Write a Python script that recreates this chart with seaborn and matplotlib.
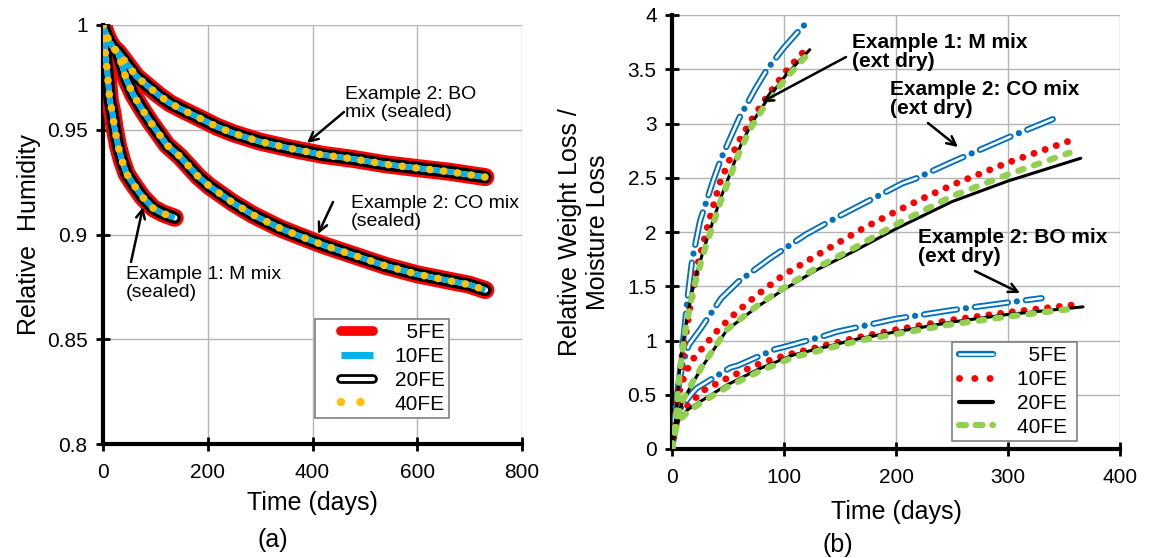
import matplotlib
matplotlib.use("Agg")
import matplotlib.pyplot as plt
import seaborn as sns
from matplotlib.lines import Line2D
from matplotlib.legend_handler import HandlerTuple, HandlerLine2D
from matplotlib.ticker import FuncFormatter

# ---------------- Panel (a): relative humidity, sealed ----------------
a_M_days = [0, 2, 5, 8, 13, 18, 22, 29, 36, 45, 58, 75, 96, 115, 137]
a_M_rh = [1.0, 0.993, 0.985, 0.978, 0.964, 0.958, 0.951, 0.942, 0.9355, 0.929, 0.924, 0.918, 0.9125, 0.910, 0.908]

a_CO_days = [0, 5, 12, 20, 29, 45, 58, 74, 90, 106, 122, 147, 182, 204, 249, 287, 338, 370, 420, 480, 540, 600, 660, 700, 730]
a_CO_rh = [1.0, 0.996, 0.992, 0.989, 0.9865, 0.9737, 0.9666, 0.960, 0.9539, 0.9483, 0.9427, 0.9372, 0.9276, 0.9229,
           0.915, 0.9093, 0.903, 0.8998, 0.895, 0.890, 0.885, 0.881, 0.878, 0.876, 0.8735]

a_BO_days = [0, 5, 12, 20, 29, 45, 64, 83, 106, 128, 153, 185, 217, 249, 300, 357, 420, 480, 540, 600, 660, 700, 730]
a_BO_rh = [1.0, 0.996, 0.992, 0.989, 0.987, 0.9817, 0.9754, 0.9714, 0.9666, 0.9626, 0.9594, 0.9555, 0.9515, 0.9483,
           0.9443, 0.9411, 0.938, 0.936, 0.9335, 0.9317, 0.930, 0.9285, 0.9274]

series_labels = ["  5FE", "10FE", "20FE", "40FE"]

# ---------------- Panel (b): relative weight loss, external drying ----------------
b_M_5FE_days = [0, 3, 6, 10, 14, 18, 25, 37, 44, 60, 75, 85, 100, 112, 123]
b_M_5FE = [0, 0.36, 0.6, 1.0, 1.4, 1.74, 2.1, 2.48, 2.68, 3.05, 3.33, 3.5, 3.7, 3.84, 3.96]
b_M_10FE_days = [0, 3, 6, 10, 16, 23, 33, 43, 52, 61, 72, 85, 100, 112, 123]
b_M_10FE = [0, 0.25, 0.55, 0.9, 1.3, 1.7, 2.1, 2.46, 2.68, 2.86, 3.05, 3.25, 3.46, 3.6, 3.72]
b_M_20FE_days = [0, 2, 4, 7, 12, 19, 28, 43, 52, 61, 71, 85, 102, 123]
b_M_20FE = [0, 0.15, 0.36, 0.76, 1.13, 1.5, 1.83, 2.3, 2.54, 2.79, 3.0, 3.22, 3.45, 3.68]
b_M_40FE_days = [0, 2, 4, 7, 12, 19, 28, 43, 52, 61, 71, 85, 102, 123]
b_M_40FE = [0, 0.14, 0.34, 0.72, 1.1, 1.47, 1.8, 2.27, 2.51, 2.76, 2.97, 3.2, 3.42, 3.66]

b_CO_5FE_days = [0, 3, 6, 10, 15, 25, 44, 59, 88, 120, 150, 206, 217, 251, 300, 340]
b_CO_5FE = [0, 0.35, 0.6, 0.8, 0.96, 1.1, 1.39, 1.54, 1.76, 1.98, 2.15, 2.45, 2.49, 2.65, 2.87, 3.04]
b_CO_10FE_days = [0, 3, 7, 12, 18, 28, 41, 58, 76, 99, 117, 135, 170, 200, 227, 254, 300, 355]
b_CO_10FE = [0, 0.3, 0.55, 0.7, 0.82, 0.94, 1.097, 1.265, 1.42, 1.6, 1.71, 1.82, 2.03, 2.19, 2.325, 2.45, 2.64, 2.84]
b_CO_20FE_days = [0, 2, 5, 10, 18, 28, 49, 76, 99, 129, 162, 200, 250, 300, 365]
b_CO_20FE = [0, 0.15, 0.3, 0.45, 0.6, 0.774, 1.097, 1.31, 1.465, 1.65, 1.82, 2.03, 2.28, 2.47, 2.68]
b_CO_40FE_days = [0, 2, 5, 10, 18, 28, 49, 76, 99, 129, 162, 200, 250, 300, 355]
b_CO_40FE = [0, 0.15, 0.3, 0.46, 0.61, 0.78, 1.1, 1.32, 1.48, 1.67, 1.85, 2.07, 2.33, 2.53, 2.73]

b_BO_5FE_days = [0, 3, 8, 17.6, 22, 52, 59, 92, 100, 135, 147, 200, 250, 300, 330]
b_BO_5FE = [0, 0.2, 0.38, 0.51, 0.56, 0.75, 0.77, 0.92, 0.94, 1.04, 1.08, 1.2, 1.28, 1.35, 1.39]
b_BO_10FE_days = [0, 2, 5, 10, 19, 28, 52, 79, 102, 132, 162, 200, 250, 300, 360]
b_BO_10FE = [0, 0.15, 0.28, 0.36, 0.45, 0.54, 0.667, 0.79, 0.866, 0.943, 1.02, 1.1, 1.19, 1.26, 1.33]
b_BO_20FE_days = [0, 2, 4, 7, 15, 25, 49, 79, 108, 138, 168, 200, 250, 300, 367]
b_BO_20FE = [0, 0.12, 0.22, 0.29, 0.37, 0.436, 0.59, 0.744, 0.866, 0.943, 1.02, 1.08, 1.17, 1.24, 1.31]
b_BO_40FE_days = [0, 2, 4, 7, 15, 25, 49, 79, 108, 138, 168, 200, 250, 300, 355]
b_BO_40FE = [0, 0.11, 0.2, 0.27, 0.35, 0.42, 0.57, 0.72, 0.845, 0.925, 1.0, 1.06, 1.15, 1.22, 1.29]

# ---------------- style ----------------
sns.set_theme(style="white")
plt.rcParams["font.family"] = ["Liberation Sans", "DejaVu Sans"]
plt.rcParams["lines.scale_dashes"] = False
for k in ("text.color", "axes.labelcolor", "xtick.color", "ytick.color"):
    plt.rcParams[k] = "black"

fig = plt.figure(figsize=(11.52, 5.58), dpi=100)
W, H = 1152, 558
ax1 = fig.add_axes([103 / W, 1 - 444 / H, (522 - 103) / W, (444 - 25) / H])
ax2 = fig.add_axes([672 / W, 1 - 449 / H, (1120 - 672) / W, (449 - 15) / H])

DOT = 0.01


def line(ax, x, y, **kw):
    sns.lineplot(x=x, y=y, ax=ax, estimator=None, sort=False, **kw)


# Panel (a) curves: each example drawn with all four FE resolutions (overlapping)
for d, r in [(a_M_days, a_M_rh), (a_CO_days, a_CO_rh), (a_BO_days, a_BO_rh)]:
    line(ax1, d, r, color="#FF0000", linewidth=13, solid_capstyle="round", zorder=3)
    line(ax1, d, r, color="black", linewidth=9, solid_capstyle="round", zorder=4)
    line(ax1, d, r, color="white", linewidth=4, solid_capstyle="round", zorder=5)
    line(ax1, d, r, color="#00B0F0", linewidth=4, solid_capstyle="butt", zorder=6)
    line(ax1, d, r, color="#FFC000", linewidth=5.5, linestyle=(0, (DOT, 10)),
         dash_capstyle="round", zorder=7)

# Panel (b) curves
BLUE, RED, GREEN = "#0070C0", "#FF0000", "#92D050"
for (d5, v5, d10, v10, d20, v20, d40, v40) in [
    (b_M_5FE_days, b_M_5FE, b_M_10FE_days, b_M_10FE, b_M_20FE_days, b_M_20FE, b_M_40FE_days, b_M_40FE),
    (b_CO_5FE_days, b_CO_5FE, b_CO_10FE_days, b_CO_10FE, b_CO_20FE_days, b_CO_20FE, b_CO_40FE_days, b_CO_40FE),
    (b_BO_5FE_days, b_BO_5FE, b_BO_10FE_days, b_BO_10FE, b_BO_20FE_days, b_BO_20FE, b_BO_40FE_days, b_BO_40FE),
]:
    line(ax2, d5, v5, color=BLUE, linewidth=4.5, linestyle=(0, (24, 6.5, DOT, 6.5)),
         dash_capstyle="round", zorder=3)
    line(ax2, d5, v5, color="white", linewidth=1.8, linestyle=(0, (24, 13 + DOT)),
         dash_capstyle="round", zorder=3.1)
    line(ax2, d10, v10, color=RED, linewidth=5, linestyle=(0, (DOT, 8.5)),
         dash_capstyle="round", zorder=4)
    line(ax2, d20, v20, color="black", linewidth=2.2, zorder=5)
    line(ax2, d40, v40, color=GREEN, linewidth=4.5, linestyle=(0, (4, 8)),
         dash_capstyle="round", zorder=6)

# ---------------- axes formatting ----------------
fmt = FuncFormatter(lambda v, p: f"{v:g}")
for ax in (ax1, ax2):
    ax.set_axisbelow(True)
    ax.grid(True, color="#b4b4b4", linewidth=1)
    for s in ("top", "right"):
        ax.spines[s].set_visible(False)
    for s in ("left", "bottom"):
        ax.spines[s].set_color("black")
        ax.spines[s].set_linewidth(3)
    ax.tick_params(direction="inout", length=10, width=2, colors="black",
                   labelsize=15, pad=6, left=True, bottom=True)
    ax.tick_params(axis="x", pad=9)
    ax.yaxis.set_major_formatter(fmt)
    ax.xaxis.set_major_formatter(fmt)

ax1.set_xlim(0, 800)
ax1.set_ylim(0.8, 1.0)
ax1.set_xticks([0, 200, 400, 600, 800])
ax1.set_yticks([0.8, 0.85, 0.9, 0.95, 1.0])
ax1.set_xlabel("Time (days)", fontsize=18, labelpad=6)
ax1.set_ylabel("Relative  Humidity", fontsize=18, labelpad=4)

ax2.set_xlim(0, 400)
ax2.set_ylim(0, 4)
ax2.set_xticks([0, 100, 200, 300, 400])
ax2.set_yticks([0, 0.5, 1, 1.5, 2, 2.5, 3, 3.5, 4])
ax2.set_xlabel("Time (days)", fontsize=18, labelpad=9)
ax2.set_ylabel("Relative Weight Loss /\nMoisture Loss", fontsize=18, labelpad=13)

fig.text(273 / W, 1 - 540 / H, "(a)", fontsize=18, ha="center", va="center")
fig.text(838 / W, 1 - 545 / H, "(b)", fontsize=18, ha="center", va="center")

# ---------------- legends ----------------
FS = 15
hmap_a = {tuple: HandlerTuple(ndivide=1, pad=0),
          Line2D: HandlerLine2D(marker_pad=1.05, numpoints=2)}
h5a = Line2D([], [], color="#FF0000", lw=7, solid_capstyle="round")
h10a = Line2D([], [], color="#00B0F0", lw=5, solid_capstyle="butt")
h20a = (Line2D([], [], color="black", lw=7, solid_capstyle="round"),
        Line2D([], [], color="white", lw=3, solid_capstyle="round"))
h40a = Line2D([], [], color="#FFC000", lw=6, linestyle=(0, (DOT, 14)), dash_capstyle="round")
leg1 = ax1.legend([h5a, h10a, h20a, h40a], series_labels, loc="upper left",
                  bbox_to_anchor=(0.505, 0.298), borderaxespad=0, fontsize=FS,
                  frameon=True, fancybox=False, framealpha=1, edgecolor="#7f7f7f",
                  handlelength=3.65, handletextpad=0.0, labelspacing=0.23,
                  borderpad=0.2, handler_map=hmap_a)
leg1.get_frame().set_linewidth(1.2)
leg1.set_zorder(20)

hmap_b = {tuple: HandlerTuple(ndivide=1, pad=0),
          Line2D: HandlerLine2D(marker_pad=0.15, numpoints=2)}
h5b = (Line2D([], [], color=BLUE, lw=4.5, solid_capstyle="round"),
       Line2D([], [], color="white", lw=1.8, solid_capstyle="round"))
h10b = Line2D([], [], color=RED, lw=5, linestyle=(0, (DOT, 11)), dash_capstyle="round")
h20b = Line2D([], [], color="black", lw=3)
h40b = Line2D([], [], color=GREEN, lw=4.5, linestyle=(0, (5, 7)), dash_capstyle="round")
leg2 = ax2.legend([h5b, h10b, h20b, h40b], [s + " " for s in series_labels], loc="upper left",
                  bbox_to_anchor=(0.625, 0.246), borderaxespad=0, fontsize=FS,
                  frameon=True, fancybox=False, framealpha=1, edgecolor="#7f7f7f",
                  handlelength=1.9, handletextpad=1.0, labelspacing=0.23,
                  borderpad=0.2, handler_map=hmap_b)
leg2.get_frame().set_linewidth(1.2)
leg2.set_zorder(20)

# ---------------- annotations ----------------
def ax1_xy(px, py):
    return ((px - 103) / ((522 - 103) / 800), 0.8 + (444 - py) / ((444 - 25) / 0.2))


def ax2_xy(px, py):
    return ((px - 672) / 1.12, (449 - py) / 108.5)


arrow = dict(arrowstyle="->", color="black", lw=1.8, shrinkA=0, shrinkB=0,
             mutation_scale=16)

ax1.annotate("", xy=ax1_xy(307, 143), xytext=ax1_xy(344, 112), arrowprops=arrow, zorder=10)
ax1.text(*ax1_xy(345, 86), "Example 2: BO\nmix (sealed)", fontsize=14, ha="left", va="top",
         linespacing=1.1)
ax1.annotate("", xy=ax1_xy(318, 234), xytext=ax1_xy(333, 202), arrowprops=arrow, zorder=10)
ax1.text(*ax1_xy(351, 195), "Example 2: CO mix\n(sealed)", fontsize=14, ha="left", va="top",
         linespacing=1.1)
ax1.annotate("", xy=ax1_xy(143, 207), xytext=ax1_xy(131, 262), arrowprops=arrow, zorder=10)
ax1.text(*ax1_xy(126, 266), "Example 1: M mix\n(sealed)", fontsize=14, ha="left", va="top",
         linespacing=1.1)

ax2.annotate("", xy=ax2_xy(762, 102), xytext=ax2_xy(846, 57), arrowprops=arrow, zorder=10)
ax2.text(*ax2_xy(852, 33), "Example 1: M mix\n(ext dry)", fontsize=15, fontweight="bold",
         ha="left", va="top", linespacing=1.0)
ax2.annotate("", xy=ax2_xy(958, 147), xytext=ax2_xy(928, 123), arrowprops=arrow, zorder=10)
ax2.text(*ax2_xy(890, 80), "Example 2: CO mix\n(ext dry)", fontsize=15, fontweight="bold",
         ha="left", va="top", linespacing=1.0)
ax2.annotate("", xy=ax2_xy(1020, 293), xytext=ax2_xy(975, 271), arrowprops=arrow, zorder=10)
ax2.text(*ax2_xy(918, 228), "Example 2: BO mix\n(ext dry)", fontsize=15, fontweight="bold",
         ha="left", va="top", linespacing=1.0)

fig.savefig("out.png", dpi=100)
